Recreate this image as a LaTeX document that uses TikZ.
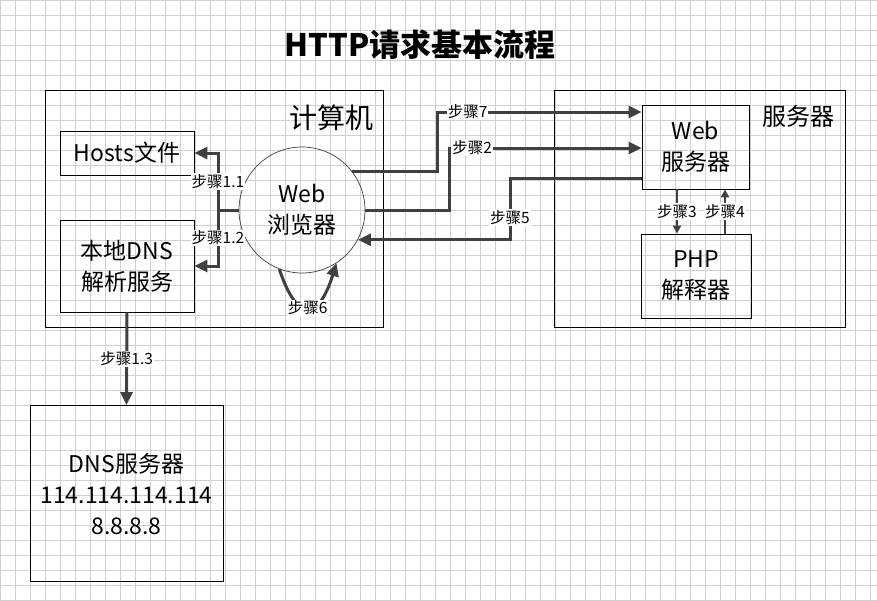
\documentclass[tikz,border=0pt]{standalone}
\usepackage{fontspec}
\setmainfont{Noto Sans CJK SC}
\usetikzlibrary{arrows.meta,positioning,calc}
\definecolor{darkline}{RGB}{64,64,64}
\definecolor{gridgray}{RGB}{208,208,208}

\begin{document}
\begin{tikzpicture}[x=1pt, y=-1pt,
    box/.style={draw, line width=0.9pt, align=center, font=\fontsize{23}{31}\selectfont},
    arr/.style={-{Triangle[length=13pt,width=12pt]}, line width=3pt, darkline},
    smallarr/.style={-{Triangle[length=8pt,width=8pt]}, line width=2.2pt, darkline},
    steplbl/.style={fill=white, inner sep=1pt, text=black, font=\fontsize{15.5}{17}\selectfont}
]
\useasboundingbox (0,0) rectangle (877,600);
\fill[white] (0,0) rectangle (877,600);
% background grid
\foreach \gx in {0,15,...,875} \draw[gridgray, line width=0.8pt] (\gx,0) -- (\gx,600);
\foreach \gy in {0,15,...,600} \draw[gridgray, line width=0.8pt] (0,\gy) -- (877,\gy);

\node[font=\fontsize{31}{35}\selectfont\bfseries] (title) at (420,45) {HTTP请求基本流程};

% computer
\node[draw, line width=0.9pt, minimum width=338pt, minimum height=237pt] (computer) at (214,208.5) {};
\node[font=\fontsize{28}{32}\selectfont] (pclbl) at (331,118) {计算机};
\node[box, minimum width=134pt, minimum height=44pt] (hosts) at (127,153) {Hosts文件};
\node[box, minimum width=134pt, minimum height=92pt] (localdns) at (127,266) {本地DNS\\解析服务};
\node[draw=darkline, line width=0.7pt, circle, minimum size=126pt, align=center,
      font=\fontsize{23}{31}\selectfont] (browser) at (302,210) {Web\\浏览器};

% server
\node[draw, line width=0.9pt, minimum width=291pt, minimum height=237pt] (server) at (699.5,208.5) {};
\node[font=\fontsize{24}{28}\selectfont] (srvlbl) at (798,116) {服务器};
\node[box, minimum width=107pt, minimum height=84pt] (websrv) at (695.5,147) {Web\\服务器};
\node[box, minimum width=110pt, minimum height=84pt] (php) at (696,276) {PHP\\解释器};

% dns server
\node[box, minimum width=193pt, minimum height=176pt] (dnssrv) at (126.5,493.5) {DNS服务器\\114.114.114.114\\8.8.8.8};

% steps 1.1 and 1.2
\coordinate (s1) at (218,210);
\draw[line width=3pt, darkline] (browser.west) -- (s1);
\draw[arr] (s1) |- node[steplbl, pos=0.25]{步骤1.1} (hosts.east);
\draw[arr] (s1) |- node[steplbl, pos=0.25]{步骤1.2} (localdns.east);
\draw[arr] (localdns.south) -- node[steplbl]{步骤1.3} (dnssrv.north);

% steps 2, 5, 7
\coordinate (s7) at (437,112);
\coordinate (s2) at (449,148);
\coordinate (s5) at (510,178);
\draw[arr] (browser.38) -| (s7) -- node[steplbl, pos=0.15]{步骤7} (s7 -| websrv.west);
\draw[arr] (browser.east) -| (s2) -- node[steplbl, pos=0.12]{步骤2} (s2 -| websrv.west);
\draw[arr] (s5 -| websrv.west) -- (s5) |- node[steplbl, pos=0.32]{步骤5} (browser.-28);

% steps 3 and 4
\draw[smallarr] ([xshift=-18.5pt]websrv.south) -- node[steplbl]{步骤3} ([xshift=-18.5pt]websrv.south |- php.north);
\draw[smallarr] ([xshift=29pt]php.north) -- node[steplbl]{步骤4} ([xshift=29pt]php.north |- websrv.south);

% step 6
\draw[arr] (browser.-111) .. controls (297,322) and (318,322) .. node[steplbl]{步骤6} (browser.-57);
\end{tikzpicture}
\end{document}
